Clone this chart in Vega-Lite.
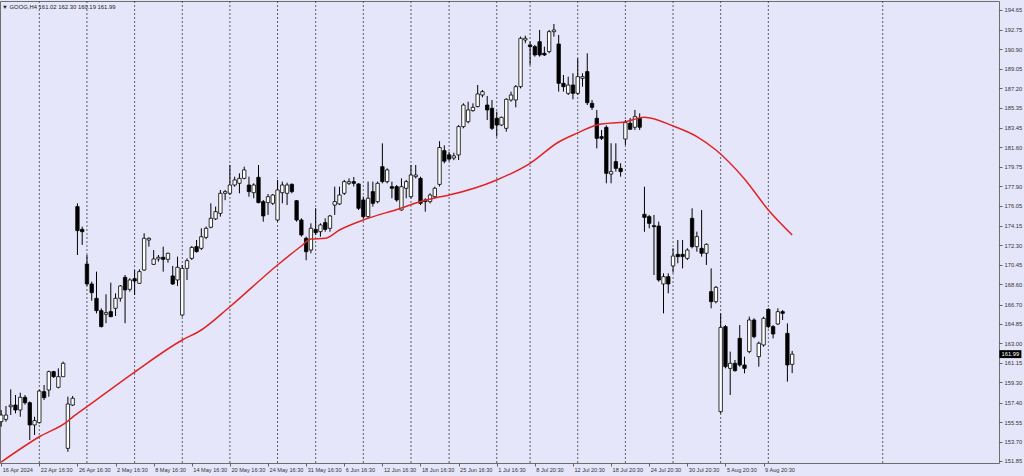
{
  "$schema": "https://vega.github.io/schema/vega-lite/v6.json",
  "width": 999,
  "height": 462,
  "autosize": {"type": "none"},
  "padding": {"left": 0, "top": 1, "right": 25, "bottom": 13},
  "background": "#E6E6FA",
  "view": {"stroke": "#6e6e6e", "strokeWidth": 1, "fill": "#E6E6FA"},
  "config": {"font": "Liberation Sans", "axis": {"labelOverlap": false, "labelFlush": false, "labelBound": false, "grid": false, "domain": false}},
  "title": {"text": "▼ GOOG,H4  161.02 162.30 160.19 161.99", "anchor": "start", "frame": "group", "offset": -9, "fontSize": 5.9, "fontWeight": "normal", "color": "#222222", "dx": 2, "font": "Liberation Sans"},
  "datasets": {
    "bars": [
      {"i":0,"o":155.58,"h":156.69,"l":155.11,"c":156.21},
      {"i":1,"o":155.80,"h":157.07,"l":155.58,"c":156.21},
      {"i":2,"o":157.00,"h":158.65,"l":156.21,"c":157.15},
      {"i":3,"o":157.16,"h":158.11,"l":156.37,"c":156.69},
      {"i":4,"o":156.69,"h":158.33,"l":156.05,"c":157.89},
      {"i":5,"o":157.89,"h":158.11,"l":157.20,"c":157.38},
      {"i":6,"o":157.38,"h":157.50,"l":153.84,"c":155.27},
      {"i":7,"o":155.27,"h":156.05,"l":154.32,"c":155.68},
      {"i":8,"o":155.49,"h":158.60,"l":155.40,"c":158.49},
      {"i":9,"o":158.43,"h":159.06,"l":157.64,"c":157.86},
      {"i":10,"o":158.59,"h":160.42,"l":157.95,"c":160.33},
      {"i":11,"o":160.33,"h":160.40,"l":159.75,"c":159.85},
      {"i":12,"o":158.84,"h":160.64,"l":158.74,"c":159.85},
      {"i":13,"o":159.85,"h":161.28,"l":159.85,"c":161.12},
      {"i":14,"o":153.05,"h":157.96,"l":152.73,"c":157.26},
      {"i":15,"o":157.16,"h":158.02,"l":157.07,"c":157.80},
      {"i":16,"o":175.99,"h":176.30,"l":171.40,"c":173.71},
      {"i":17,"o":173.83,"h":174.09,"l":172.35,"c":173.61},
      {"i":18,"o":170.54,"h":171.40,"l":168.46,"c":168.65},
      {"i":19,"o":168.65,"h":168.87,"l":167.06,"c":167.82},
      {"i":20,"o":167.29,"h":169.82,"l":165.86,"c":166.12},
      {"i":21,"o":166.12,"h":166.34,"l":164.53,"c":164.60},
      {"i":22,"o":165.77,"h":167.67,"l":164.92,"c":165.93},
      {"i":23,"o":166.02,"h":168.77,"l":165.48,"c":165.55},
      {"i":24,"o":166.34,"h":167.76,"l":165.61,"c":167.29},
      {"i":25,"o":167.29,"h":168.55,"l":166.97,"c":168.46},
      {"i":26,"o":169.28,"h":169.50,"l":164.92,"c":168.08},
      {"i":27,"o":168.14,"h":169.19,"l":167.92,"c":169.03},
      {"i":28,"o":169.15,"h":169.97,"l":167.60,"c":168.93},
      {"i":29,"o":168.71,"h":170.04,"l":168.65,"c":169.82},
      {"i":30,"o":169.97,"h":173.46,"l":169.90,"c":172.98},
      {"i":31,"o":172.82,"h":173.07,"l":172.19,"c":172.98},
      {"i":32,"o":170.51,"h":171.87,"l":170.45,"c":171.02},
      {"i":33,"o":171.02,"h":171.40,"l":170.77,"c":171.18},
      {"i":34,"o":171.18,"h":172.19,"l":169.82,"c":170.99},
      {"i":35,"o":170.99,"h":171.62,"l":170.67,"c":171.56},
      {"i":36,"o":169.41,"h":170.36,"l":168.55,"c":168.65},
      {"i":37,"o":169.03,"h":171.24,"l":168.46,"c":170.23},
      {"i":38,"o":165.70,"h":170.45,"l":165.55,"c":170.13},
      {"i":39,"o":170.13,"h":171.08,"l":169.03,"c":170.86},
      {"i":40,"o":171.08,"h":172.25,"l":170.92,"c":172.12},
      {"i":41,"o":172.19,"h":172.82,"l":171.62,"c":171.72},
      {"i":42,"o":172.03,"h":173.93,"l":171.87,"c":173.13},
      {"i":43,"o":173.07,"h":174.10,"l":172.90,"c":173.93},
      {"i":44,"o":174.03,"h":176.30,"l":173.93,"c":174.88},
      {"i":45,"o":174.82,"h":175.99,"l":174.72,"c":175.51},
      {"i":46,"o":175.35,"h":177.57,"l":175.04,"c":177.25},
      {"i":47,"o":177.25,"h":177.57,"l":176.60,"c":177.41},
      {"i":48,"o":177.25,"h":179.94,"l":177.09,"c":178.04},
      {"i":49,"o":178.04,"h":178.83,"l":177.88,"c":178.52},
      {"i":50,"o":178.20,"h":179.15,"l":177.25,"c":178.67},
      {"i":51,"o":178.67,"h":179.78,"l":178.58,"c":179.47},
      {"i":52,"o":178.04,"h":178.83,"l":176.93,"c":177.41},
      {"i":53,"o":177.31,"h":178.20,"l":176.78,"c":178.04},
      {"i":54,"o":178.77,"h":179.94,"l":176.30,"c":176.37},
      {"i":55,"o":176.46,"h":176.62,"l":174.56,"c":175.10},
      {"i":56,"o":176.37,"h":177.19,"l":175.20,"c":176.93},
      {"i":57,"o":176.30,"h":177.19,"l":176.14,"c":177.09},
      {"i":58,"o":174.72,"h":178.52,"l":174.56,"c":177.57},
      {"i":59,"o":177.31,"h":178.36,"l":176.30,"c":178.04},
      {"i":60,"o":177.25,"h":178.26,"l":176.14,"c":178.04},
      {"i":61,"o":178.10,"h":178.20,"l":177.25,"c":177.41},
      {"i":62,"o":176.55,"h":176.62,"l":174.56,"c":174.72},
      {"i":63,"o":174.72,"h":174.88,"l":173.14,"c":173.30},
      {"i":64,"o":172.98,"h":173.14,"l":170.90,"c":171.71},
      {"i":65,"o":171.87,"h":174.40,"l":171.56,"c":173.93},
      {"i":66,"o":173.83,"h":175.83,"l":173.30,"c":173.52},
      {"i":67,"o":173.61,"h":174.40,"l":173.14,"c":174.25},
      {"i":68,"o":174.47,"h":174.88,"l":173.61,"c":173.83},
      {"i":69,"o":173.93,"h":175.20,"l":173.61,"c":175.10},
      {"i":70,"o":176.14,"h":177.88,"l":175.20,"c":176.46},
      {"i":71,"o":176.24,"h":177.88,"l":176.14,"c":177.09},
      {"i":72,"o":177.25,"h":178.52,"l":177.09,"c":178.36},
      {"i":73,"o":178.20,"h":178.67,"l":178.04,"c":178.36},
      {"i":74,"o":178.36,"h":178.80,"l":177.90,"c":178.20},
      {"i":75,"o":178.14,"h":178.20,"l":175.67,"c":175.83},
      {"i":76,"o":176.62,"h":176.93,"l":174.88,"c":175.04},
      {"i":77,"o":175.04,"h":178.36,"l":174.88,"c":176.78},
      {"i":78,"o":177.41,"h":178.36,"l":175.99,"c":176.30},
      {"i":79,"o":176.46,"h":178.36,"l":176.30,"c":178.20},
      {"i":80,"o":179.78,"h":181.99,"l":178.20,"c":178.36},
      {"i":81,"o":178.36,"h":179.62,"l":178.20,"c":179.47},
      {"i":82,"o":177.88,"h":178.36,"l":176.78,"c":177.73},
      {"i":83,"o":177.88,"h":178.04,"l":176.46,"c":176.62},
      {"i":84,"o":175.67,"h":178.67,"l":175.60,"c":177.88},
      {"i":85,"o":177.73,"h":178.52,"l":176.78,"c":178.36},
      {"i":86,"o":176.93,"h":179.94,"l":176.78,"c":178.99},
      {"i":87,"o":178.83,"h":179.94,"l":178.67,"c":178.99},
      {"i":88,"o":178.67,"h":178.83,"l":176.14,"c":176.30},
      {"i":89,"o":176.62,"h":176.78,"l":175.51,"c":176.46},
      {"i":90,"o":176.46,"h":177.25,"l":176.30,"c":177.09},
      {"i":91,"o":176.93,"h":177.88,"l":176.78,"c":177.73},
      {"i":92,"o":178.10,"h":182.20,"l":177.90,"c":181.60},
      {"i":93,"o":181.30,"h":181.80,"l":180.10,"c":180.30},
      {"i":94,"o":180.90,"h":181.20,"l":180.30,"c":180.50},
      {"i":95,"o":180.60,"h":181.10,"l":180.40,"c":180.80},
      {"i":96,"o":180.89,"h":183.73,"l":180.41,"c":183.58},
      {"i":97,"o":183.58,"h":185.79,"l":183.42,"c":185.63},
      {"i":98,"o":184.05,"h":185.95,"l":183.89,"c":185.16},
      {"i":99,"o":185.10,"h":185.79,"l":185.00,"c":185.41},
      {"i":100,"o":185.48,"h":187.53,"l":185.41,"c":186.68},
      {"i":101,"o":186.58,"h":187.06,"l":186.36,"c":186.90},
      {"i":102,"o":185.63,"h":186.49,"l":184.21,"c":185.16},
      {"i":103,"o":185.32,"h":186.11,"l":183.26,"c":183.42},
      {"i":104,"o":184.37,"h":185.00,"l":182.63,"c":183.73},
      {"i":105,"o":183.73,"h":184.53,"l":183.64,"c":184.46},
      {"i":106,"o":183.42,"h":186.27,"l":183.10,"c":186.17},
      {"i":107,"o":186.11,"h":186.90,"l":185.95,"c":186.58},
      {"i":108,"o":186.11,"h":187.53,"l":185.41,"c":187.37},
      {"i":109,"o":187.37,"h":192.12,"l":187.21,"c":191.96},
      {"i":110,"o":191.80,"h":192.21,"l":191.49,"c":191.96},
      {"i":111,"o":191.33,"h":191.64,"l":189.43,"c":191.17},
      {"i":112,"o":191.17,"h":191.33,"l":190.22,"c":190.38},
      {"i":113,"o":191.64,"h":192.75,"l":190.22,"c":190.38},
      {"i":114,"o":190.54,"h":191.17,"l":190.28,"c":190.38},
      {"i":115,"o":190.70,"h":192.75,"l":190.54,"c":192.59},
      {"i":116,"o":192.59,"h":193.32,"l":192.12,"c":192.75},
      {"i":117,"o":191.42,"h":192.28,"l":186.90,"c":187.69},
      {"i":118,"o":187.69,"h":188.48,"l":186.90,"c":187.37},
      {"i":119,"o":186.74,"h":188.32,"l":186.58,"c":187.53},
      {"i":120,"o":187.53,"h":188.64,"l":186.17,"c":186.74},
      {"i":121,"o":186.74,"h":190.06,"l":186.58,"c":188.32},
      {"i":122,"o":188.16,"h":188.64,"l":187.37,"c":188.32},
      {"i":123,"o":188.80,"h":190.54,"l":185.63,"c":185.85},
      {"i":124,"o":185.79,"h":186.11,"l":185.16,"c":185.41},
      {"i":125,"o":184.37,"h":185.16,"l":181.52,"c":182.47},
      {"i":126,"o":182.63,"h":183.26,"l":182.31,"c":182.47},
      {"i":127,"o":183.51,"h":183.70,"l":178.20,"c":179.15},
      {"i":128,"o":179.08,"h":182.00,"l":178.20,"c":179.31},
      {"i":129,"o":180.26,"h":182.00,"l":179.31,"c":179.62},
      {"i":130,"o":179.62,"h":180.10,"l":178.83,"c":179.31},
      {"i":131,"o":182.40,"h":184.21,"l":181.84,"c":183.96},
      {"i":132,"o":183.90,"h":184.40,"l":183.26,"c":183.33},
      {"i":133,"o":183.52,"h":185.16,"l":183.26,"c":184.53},
      {"i":134,"o":184.37,"h":184.84,"l":183.26,"c":183.52},
      {"i":135,"o":175.26,"h":177.88,"l":173.60,"c":174.97},
      {"i":136,"o":175.04,"h":175.20,"l":173.93,"c":174.40},
      {"i":137,"o":174.18,"h":175.20,"l":169.50,"c":174.09},
      {"i":138,"o":174.15,"h":174.56,"l":168.87,"c":169.03},
      {"i":139,"o":168.65,"h":169.66,"l":165.86,"c":169.34},
      {"i":140,"o":169.34,"h":169.66,"l":167.76,"c":168.65},
      {"i":141,"o":170.36,"h":172.03,"l":169.72,"c":171.30},
      {"i":142,"o":171.46,"h":172.82,"l":170.61,"c":171.24},
      {"i":143,"o":171.46,"h":172.82,"l":170.13,"c":171.24},
      {"i":144,"o":171.08,"h":172.03,"l":170.92,"c":171.87},
      {"i":145,"o":174.88,"h":175.83,"l":172.03,"c":172.19},
      {"i":146,"o":172.19,"h":173.61,"l":171.71,"c":173.14},
      {"i":147,"o":172.03,"h":175.67,"l":171.24,"c":171.56},
      {"i":148,"o":171.56,"h":172.50,"l":170.45,"c":172.41},
      {"i":149,"o":167.92,"h":170.13,"l":166.34,"c":166.97},
      {"i":150,"o":166.97,"h":168.46,"l":166.81,"c":168.33},
      {"i":151,"o":156.53,"h":165.86,"l":156.37,"c":164.53},
      {"i":152,"o":164.60,"h":164.75,"l":160.64,"c":160.80},
      {"i":153,"o":160.64,"h":162.23,"l":158.11,"c":161.12},
      {"i":154,"o":161.12,"h":161.43,"l":160.33,"c":160.42},
      {"i":155,"o":163.49,"h":164.75,"l":160.80,"c":160.96},
      {"i":156,"o":160.96,"h":161.75,"l":160.17,"c":160.64},
      {"i":157,"o":162.23,"h":165.55,"l":162.07,"c":165.23},
      {"i":158,"o":165.23,"h":165.39,"l":163.49,"c":163.65},
      {"i":159,"o":161.75,"h":163.18,"l":160.80,"c":163.02},
      {"i":160,"o":162.86,"h":165.55,"l":162.70,"c":165.39},
      {"i":161,"o":166.24,"h":166.34,"l":164.44,"c":164.60},
      {"i":162,"o":164.60,"h":164.75,"l":163.49,"c":163.90},
      {"i":163,"o":164.85,"h":166.34,"l":164.75,"c":166.02},
      {"i":164,"o":166.02,"h":166.18,"l":165.23,"c":165.86},
      {"i":165,"o":163.96,"h":164.91,"l":159.38,"c":160.96},
      {"i":166,"o":161.02,"h":162.30,"l":160.19,"c":161.99}
    ],
    "ma": [
      {"i":0,"ma":151.75},{"i":8,"ma":154.15},{"i":14,"ma":155.64},{"i":15,"ma":156.02},
      {"i":18,"ma":157.0},{"i":28,"ma":160.29},{"i":38,"ma":163.33},{"i":42,"ma":164.28},
      {"i":48,"ma":166.49},{"i":58,"ma":170.45},{"i":63,"ma":172.25},{"i":65,"ma":172.92},
      {"i":68,"ma":172.98},{"i":71,"ma":173.77},{"i":76,"ma":174.72},{"i":84,"ma":175.86},
      {"i":87,"ma":176.33},{"i":91,"ma":176.81},{"i":94,"ma":177.09},{"i":104,"ma":178.52},
      {"i":111,"ma":180.1},{"i":117,"ma":182.12},{"i":121,"ma":182.98},{"i":125,"ma":183.74},
      {"i":131,"ma":184.05},{"i":135,"ma":184.47},{"i":141,"ma":183.64},{"i":146,"ma":182.63},
      {"i":150,"ma":181.36},{"i":156,"ma":178.61},{"i":161,"ma":175.67},{"i":166,"ma":173.3}
    ],
    "grid": [
      {"i":8},{"i":18},{"i":28},{"i":38},{"i":48},{"i":58},{"i":66},{"i":76},{"i":86},
      {"i":94},{"i":104},{"i":111},{"i":121},{"i":131},{"i":141},{"i":151},{"i":161},{"i":185}
    ]
  },
  "layer": [
    {
      "data": {"name": "bars"},
      "mark": {"type": "bar", "size": 3.4, "orient": "vertical", "opacity": 0},
      "encoding": {
        "x": {"field": "i", "type": "quantitative", "title": null, "scale": {"domain": [-0.25, 209.41], "nice": false, "zero": false, "padding": 0},
          "axis": {"values": [0,8,16,24,32,40,48,56,64,72,80,88,96,104,112,120,128,136,144,152,160], "tickCount": 40,
            "labelExpr": "['16 Apr 2024','22 Apr 16:30','26 Apr 16:30','2 May 16:30','8 May 16:30','14 May 16:30','20 May 16:30','24 May 16:30','31 May 16:30','6 Jun 16:30','12 Jun 16:30','18 Jun 16:30','25 Jun 16:30','1 Jul 16:30','8 Jul 20:30','12 Jul 20:30','18 Jul 20:30','24 Jul 20:30','30 Jul 20:30','5 Aug 20:30','9 Aug 20:30'][round(datum.value/8)]",
            "title": null, "grid": false, "domain": false, "ticks": true, "tickSize": 3, "tickColor": "#444444", "tickWidth": 0.8,
            "labelAlign": "left", "labelBaseline": "top", "labelPadding": 1, "labelOffset": 1, "labelFontSize": 5.6, "labelColor": "#333333",
            "labelFlush": false, "labelOverlap": false, "labelBound": false}},
        "y": {"field": "o", "type": "quantitative", "title": null, "scale": {"domain": [151.66, 195.50], "nice": false, "zero": false},
          "axis": {"orient": "right", "values": [151.85,153.70,155.55,157.40,159.30,161.15,163.00,164.85,166.70,168.60,170.45,172.30,174.15,176.05,177.90,179.75,181.60,183.45,185.35,187.20,189.05,190.90,192.75,194.65], "tickCount": 40,
            "format": ".2f", "title": null, "grid": false, "domain": false, "ticks": true, "tickSize": 3, "tickColor": "#444444", "tickWidth": 0.8,
            "labelAlign": "left", "labelBaseline": "middle", "labelPadding": 2, "labelFontSize": 5.8, "labelColor": "#333333", "labelOverlap": false, "labelFlush": false, "labelBound": false}},
        "y2": {"field": "c"}
      }
    },
    {
      "data": {"name": "grid"},
      "mark": {"type": "rule", "strokeDash": [2, 2], "color": "#3c3c3c", "strokeWidth": 0.8},
      "encoding": {
        "x": {"field": "i", "type": "quantitative", "title": null}
      }
    },
    {
      "data": {"name": "bars"},
      "mark": {"type": "rule", "color": "#000000", "strokeWidth": 1},
      "encoding": {
        "x": {"field": "i", "type": "quantitative", "title": null},
        "y": {"field": "l", "type": "quantitative", "title": null},
        "y2": {"field": "h"}
      }
    },
    {
      "data": {"name": "bars"},
      "mark": {"type": "bar", "size": 3.4, "stroke": "#000000", "strokeWidth": 0.8, "orient": "vertical"},
      "encoding": {
        "x": {"field": "i", "type": "quantitative", "title": null},
        "y": {"field": "o", "type": "quantitative", "title": null},
        "y2": {"field": "c"},
        "fill": {"condition": {"test": "datum.c >= datum.o", "value": "#ffffff"}, "value": "#000000"}
      }
    },
    {
      "data": {"name": "ma"},
      "mark": {"type": "line", "color": "#e02424", "strokeWidth": 1.5, "interpolate": "monotone"},
      "encoding": {
        "x": {"field": "i", "type": "quantitative", "title": null},
        "y": {"field": "ma", "type": "quantitative", "title": null}
      }
    },
    {
      "data": {"name": "bars"},
      "transform": [{"filter": "datum.i == 166"}],
      "mark": {"type": "point", "shape": "M-1,-0.36L1,-0.36L1,0.36L-1,0.36Z", "size": 484, "filled": true, "fill": "#000000", "strokeWidth": 0, "opacity": 1},
      "encoding": {
        "x": {"datum": 211.8, "type": "quantitative", "title": null},
        "y": {"field": "c", "type": "quantitative", "title": null}
      }
    },
    {
      "data": {"name": "bars"},
      "transform": [{"filter": "datum.i == 166"}],
      "mark": {"type": "text", "color": "#ffffff", "fontSize": 5.8, "align": "center", "baseline": "middle"},
      "encoding": {
        "x": {"datum": 211.8, "type": "quantitative", "title": null},
        "y": {"field": "c", "type": "quantitative", "title": null},
        "text": {"field": "c", "type": "quantitative", "format": ".2f"}
      }
    }
  ]
}
